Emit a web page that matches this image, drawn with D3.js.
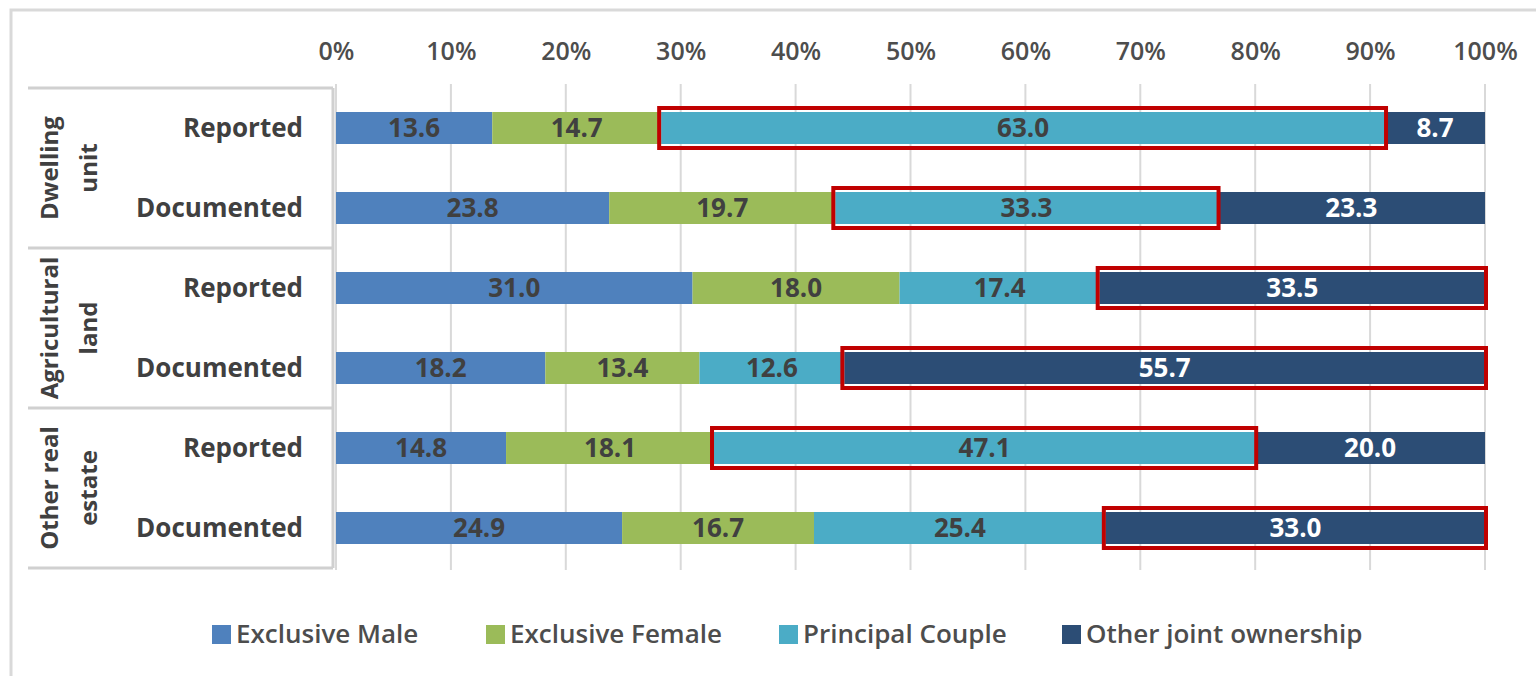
<!DOCTYPE html>
<html>
<head>
<meta charset="utf-8">
<script src="https://cdn.jsdelivr.net/npm/d3@7"></script>
<style>
  body { margin: 0; background: #fff; }
  svg { display: block; }
</style>
</head>
<body>
<div id="chart"></div>
<script>
// data
const groups = ["Dwelling unit", "Agricultural land", "Other real estate"];
const groupLines = [["Dwelling", "unit"], ["Agricultural", "land"], ["Other real", "estate"]];
const rowTypes = ["Reported", "Documented"];
const seriesNames = ["Exclusive Male", "Exclusive Female", "Principal Couple", "Other joint ownership"];
const exclusiveMale   = [13.6, 23.8, 31.0, 18.2, 14.8, 24.9];
const exclusiveFemale = [14.7, 19.7, 18.0, 13.4, 18.1, 16.7];
const principalCouple = [63.0, 33.3, 17.4, 12.6, 47.1, 25.4];
const otherJoint      = [8.7, 23.3, 33.5, 55.7, 20.0, 33.0];
const tickLabels = ["0%", "10%", "20%", "30%", "40%", "50%", "60%", "70%", "80%", "90%", "100%"];
// highlighted segments: [row index, series index]
const highlights = [[0, 2], [1, 2], [2, 3], [3, 3], [4, 2], [5, 3]];

const colors = ["#4f81bd", "#9bbb59", "#4bacc6", "#2c4d75"];
const textDark = "#404040";

const W = 1536, H = 676;
const svg = d3.select("#chart").append("svg").attr("width", W).attr("height", H);

const rows = [];
groups.forEach((g, gi) => rowTypes.forEach((t, ti) => {
  const i = gi * 2 + ti;
  rows.push({ id: i, group: g, type: t,
    "Exclusive Male": exclusiveMale[i], "Exclusive Female": exclusiveFemale[i],
    "Principal Couple": principalCouple[i], "Other joint ownership": otherJoint[i] });
}));

const x = d3.scaleLinear().domain([0, 1]).range([336, 1485]);
const y = d3.scaleBand().domain(rows.map(d => d.id)).range([88, 568]).paddingInner(0.6).paddingOuter(0.3);
const step = y.step();

const stacked = d3.stack().keys(seriesNames).offset(d3.stackOffsetExpand)(rows);

// outer frame
svg.append("path").attr("d", `M11,${H} V10 H${W}`)
  .attr("fill", "none").attr("stroke", "#d9d9d9").attr("stroke-width", 3);

// gridlines
svg.append("g").selectAll("line").data(d3.range(0, 1.0001, 0.1)).enter().append("line")
  .attr("x1", d => x(d)).attr("x2", d => x(d))
  .attr("y1", 84).attr("y2", 570)
  .attr("stroke", "#d9d9d9").attr("stroke-width", 2);

// top axis labels
const xAxis = d3.axisTop(x).tickValues(d3.range(0, 1.0001, 0.1))
  .tickFormat((d, i) => tickLabels[i]).tickSize(0).tickPadding(0);
const ax = svg.append("g").attr("transform", "translate(0,60)").call(xAxis);
ax.select(".domain").remove();
ax.selectAll("text").attr("font-family", "'Open Sans', sans-serif").attr("font-size", 25)
  .attr("fill", "#4d4d4d").attr("font-weight", 600);

// left table lines
const tableTop = y.range()[0], tableBottom = y.range()[1];
const tl = svg.append("g").attr("stroke", "#d0d0d0").attr("stroke-width", 3);
d3.range(groups.length + 1).forEach(k => {
  const yy = tableTop + k * step * 2;
  tl.append("line").attr("x1", 28).attr("x2", 333).attr("y1", yy).attr("y2", yy);
});
tl.append("line").attr("x1", 333).attr("x2", 333).attr("y1", tableTop).attr("y2", tableBottom);

// group labels (rotated)
groups.forEach((g, gi) => {
  const cy = tableTop + (gi * 2 + 1) * step;
  const t = svg.append("text")
    .attr("transform", `translate(69,${cy}) rotate(-90)`)
    .attr("text-anchor", "middle")
    .attr("font-family", "'Open Sans', sans-serif").attr("font-weight", 700)
    .attr("font-size", 24).attr("fill", textDark);
  groupLines[gi].forEach((ln, li) => {
    t.append("tspan").attr("x", 0).attr("dy", li === 0 ? "-0.45em" : "1.6em").text(ln);
  });
});

// row labels
svg.append("g").selectAll("text").data(rows).enter().append("text")
  .attr("x", 303).attr("y", d => y(d.id) + y.bandwidth() / 2)
  .attr("dy", "0.35em").attr("text-anchor", "end")
  .attr("font-family", "'Open Sans', sans-serif").attr("font-weight", 700)
  .attr("font-size", 26).attr("fill", textDark)
  .text(d => d.type);

// bars
const layer = svg.append("g").selectAll("g").data(stacked).enter().append("g")
  .attr("fill", (d, i) => colors[i]);
layer.selectAll("rect").data(d => d).enter().append("rect")
  .attr("x", d => x(d[0])).attr("width", d => x(d[1]) - x(d[0]))
  .attr("y", d => y(d.data.id)).attr("height", y.bandwidth());

// value labels
layer.each(function (s, si) {
  d3.select(this).selectAll("text").data(s).enter().append("text")
    .attr("x", d => (x(d[0]) + x(d[1])) / 2)
    .attr("y", d => y(d.data.id) + y.bandwidth() / 2)
    .attr("dy", "0.36em").attr("text-anchor", "middle")
    .attr("font-family", "'Open Sans', sans-serif").attr("font-weight", 700)
    .attr("font-size", 26)
    .attr("fill", si === 3 ? "#ffffff" : textDark)
    .text(d => d.data[s.key].toFixed(1));
});

// red highlight boxes
svg.append("g").selectAll("rect").data(highlights).enter().append("rect")
  .attr("x", d => x(stacked[d[1]][d[0]][0]) - 2)
  .attr("width", d => x(stacked[d[1]][d[0]][1]) - x(stacked[d[1]][d[0]][0]) + 3)
  .attr("y", d => y(d[0]) - 4)
  .attr("height", y.bandwidth() + 8)
  .attr("fill", "none").attr("stroke", "#c00000").attr("stroke-width", 4);

// legend
const legendX = [212, 486, 779, 1062];
const lg = svg.append("g").selectAll("g").data(seriesNames).enter().append("g")
  .attr("transform", (d, i) => `translate(${legendX[i]},634)`);
lg.append("rect").attr("x", 0).attr("y", -9).attr("width", 19).attr("height", 19)
  .attr("fill", (d, i) => colors[i]);
lg.append("text").attr("x", 24).attr("dy", "0.35em")
  .attr("font-family", "'Open Sans', sans-serif").attr("font-size", 26)
  .attr("font-weight", 600).attr("fill", "#4d4d4d")
  .text(d => d);
</script>
</body>
</html>
